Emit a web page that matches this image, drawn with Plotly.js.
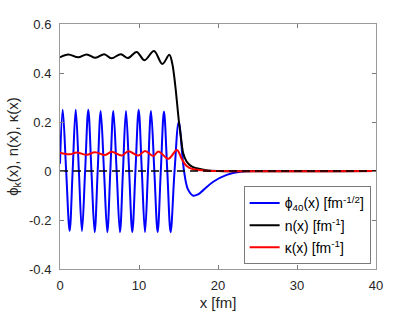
<!DOCTYPE html>
<html>
<head>
<meta charset="utf-8">
<script src="https://cdn.plot.ly/plotly-3.0.1.min.js"></script>
<style>html,body{margin:0;padding:0;background:#fff;}#chart{width:415px;height:312px;}</style>
</head>
<body>
<div id="chart"></div>
<script>
// phi_40(x) wavefunction: peaks, zero crossings and troughs
const phiX = [0, 0.34, 0.78, 1.22, 1.6, 1.99, 2.39, 2.78, 3.18, 3.58, 3.98, 4.39, 4.77, 5.15, 5.57, 5.99, 6.37, 6.75, 7.17, 7.59, 7.97, 8.35, 8.75, 9.15, 9.55, 9.96, 10.36, 10.76, 11.14, 11.52, 11.94, 12.36, 12.76, 13.16, 13.58, 14.0, 14.5, 15.03, 15.7, 16.2, 16.87, 17.5, 18.14, 19.4, 21.1, 22.8, 25, 30, 40];
const phiY = [0.03, 0.25, 0, -0.245, 0, 0.25, 0, -0.245, 0, 0.25, 0, -0.25, 0, 0.245, 0, -0.25, 0, 0.245, 0, -0.25, 0, 0.245, 0, -0.25, 0, 0.25, 0, -0.25, 0, 0.245, 0, -0.25, 0, 0.243, 0, -0.25, 0, 0.2, 0, -0.075, -0.101, -0.095, -0.078, -0.044, -0.016, -0.003, 0, 0, 0];

// n(x) density
const nX = [0, 1.05, 2.3, 3.38, 4.5, 5.6, 6.5, 7.7, 8.6, 9.7, 10.7, 11.9, 12.95, 13.84, 14.2, 14.56, 15.06, 15.3, 15.6, 16.0, 16.6, 17.3, 18.5, 20, 40];
const nY = [0.464, 0.476, 0.464, 0.476, 0.462, 0.477, 0.46, 0.477, 0.461, 0.486, 0.452, 0.49, 0.437, 0.474, 0.44, 0.358, 0.2, 0.14, 0.072, 0.04, 0.02, 0.011, 0.003, 0, 0];

// kappa(x)
const kX = [0, 1.27, 2.11, 3.38, 4.43, 5.7, 6.54, 7.81, 8.65, 9.92, 10.76, 11.81, 12.45, 13.71, 14.8, 15.4, 16.03, 16.87, 18.2, 20, 40];
const kY = [0.075, 0.068, 0.076, 0.066, 0.077, 0.065, 0.079, 0.063, 0.081, 0.063, 0.082, 0.061, 0.08, 0.05, 0.086, 0.05, 0.02, 0.007, 0.002, 0, 0];

// zero reference line
const zeroX = [0, 40];
const zeroY = [0, 0];

const xTickVals = [0, 10, 20, 30, 40];
const xTickText = ['0', '10', '20', '30', '40'];
const yTickVals = [-0.4, -0.2, 0, 0.2, 0.4, 0.6];
const yTickText = ['-0.4', '-0.2', '0', '0.2', '0.4', '0.6'];

const seriesNames = [
  'ϕ<sub>40</sub>(x) [fm<sup>-1/2</sup>]',
  'n(x) [fm<sup>-1</sup>]',
  'κ(x) [fm<sup>-1</sup>]'
];

const FONT = 'Liberation Sans, Arial, Helvetica, sans-serif';

const traces = [
  {x: phiX, y: phiY, name: seriesNames[0], legendgroup: 'a', mode: 'lines', line: {color: '#0000ff', width: 2, shape: 'spline', smoothing: 1}},
  {x: nX, y: nY, name: seriesNames[1], legendgroup: 'b', mode: 'lines', line: {color: '#000000', width: 2, shape: 'spline', smoothing: 1}},
  {x: kX, y: kY, name: seriesNames[2], legendgroup: 'c', mode: 'lines', line: {color: '#ff0000', width: 2, shape: 'spline', smoothing: 1}},
  {x: zeroX, y: zeroY, mode: 'lines', showlegend: false, hoverinfo: 'skip', line: {color: '#000000', width: 1.5, dash: '8px,5px'}}
];

const axisCommon = {
  showgrid: false, zeroline: false,
  showline: true, mirror: 'ticks', linecolor: '#9a9a9a', linewidth: 1,
  ticks: 'inside', ticklen: 4, tickcolor: '#7a7a7a', tickwidth: 1,
  tickfont: {family: FONT, size: 13, color: '#262626'},
  tickmode: 'array'
};

const layout = {
  width: 415, height: 312,
  margin: {l: 60, r: 39, t: 24, b: 43},
  paper_bgcolor: '#ffffff', plot_bgcolor: '#ffffff',
  showlegend: true,
  xaxis: Object.assign({}, axisCommon, {
    range: [0, 40], tickvals: xTickVals, ticktext: xTickText,
    ticklabelstandoff: 4,
    title: {text: 'x [fm]', font: {family: FONT, size: 15, color: '#262626'}, standoff: 5}
  }),
  yaxis: Object.assign({}, axisCommon, {
    range: [-0.4, 0.6], tickvals: yTickVals, ticktext: yTickText,
    ticklabelstandoff: 5,
    title: {text: 'ϕ<sub>k</sub>(x), n(x), κ(x)', font: {family: FONT, size: 15, color: '#262626'}, standoff: 6}
  }),
  legend: {
    x: 0.983, y: 0.019, xanchor: 'right', yanchor: 'bottom',
    bgcolor: '#ffffff', bordercolor: '#7a7a7a', borderwidth: 1,
    font: {family: FONT, size: 14, color: '#000000'},
    itemwidth: 30, traceorder: 'grouped', tracegroupgap: 1
  }
};

Plotly.newPlot('chart', traces, layout, {staticPlot: true, displayModeBar: false});
</script>
</body>
</html>
